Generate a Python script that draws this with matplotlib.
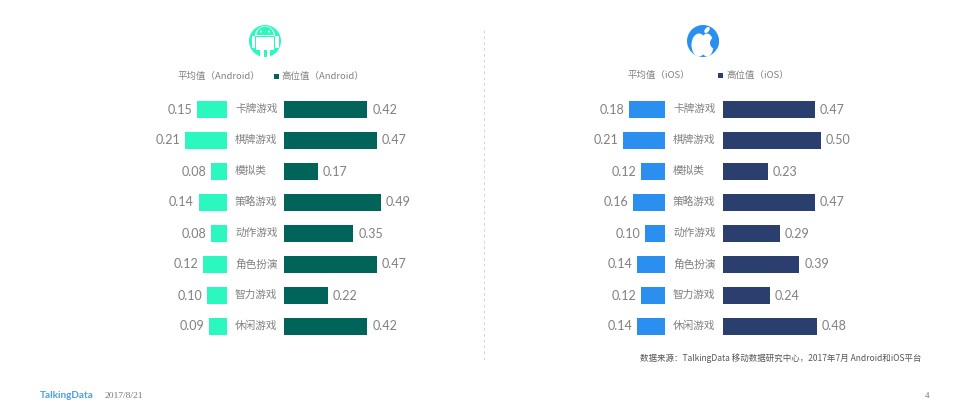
import matplotlib
matplotlib.use('Agg')
import matplotlib.pyplot as plt
from matplotlib.patches import Circle, Rectangle, Ellipse, Wedge

plt.rcParams['font.family'] = ['Noto Sans CJK SC', 'DejaVu Sans']

categories = ['卡牌游戏', '棋牌游戏', '模拟类', '策略游戏', '动作游戏', '角色扮演', '智力游戏', '休闲游戏']
android_avg = [0.15, 0.21, 0.08, 0.14, 0.08, 0.12, 0.10, 0.09]
android_high = [0.42, 0.47, 0.17, 0.49, 0.35, 0.47, 0.22, 0.42]
ios_avg = [0.18, 0.21, 0.12, 0.16, 0.10, 0.14, 0.12, 0.14]
ios_high = [0.47, 0.50, 0.23, 0.47, 0.29, 0.39, 0.24, 0.48]

W, H = 965, 420
GRAY = '#808080'
fig = plt.figure(figsize=(W / 100, H / 100), dpi=100)

# full page axes in pixel coordinates for icons, legends and footer
page = fig.add_axes([0, 0, 1, 1])
page.set_xlim(0, W)
page.set_ylim(H, 0)
page.axis('off')


def bar_axes(x0, x1, flip, vals, color):
    a = fig.add_axes([x0 / W, 1 - 342 / H, (x1 - x0) / W, (342 - 94) / H])
    a.barh(range(8), vals, height=0.56, color=color)
    a.set_ylim(7.5, -0.5)
    a.set_xlim((0.5, 0) if flip else (0, 0.5))
    a.axis('off')
    a.patch.set_alpha(0)
    for i, v in enumerate(vals):
        a.annotate('%.2f' % v, (v, i), xytext=(-5 if flip else 5, 0),
                   textcoords='offset pixels',
                   ha='right' if flip else 'left', va='center',
                   fontsize=9, color=GRAY, family='Lato')
    return a


bar_axes(127, 227, True, android_avg, '#2bf8bf')
bar_axes(284, 383, False, android_high, '#00645a')
bar_axes(565, 665, True, ios_avg, '#2b8ff0')
bar_axes(723, 821, False, ios_high, '#2a3f6e')

row_y = [109, 140, 171, 202, 233, 264, 295, 326]
for y, c in zip(row_y, categories):
    page.text(235, y, c, ha='left', va='center', fontsize=7.7, color=GRAY)
    page.text(673, y, c, ha='left', va='center', fontsize=7.7, color=GRAY)

# legends
page.text(178, 76, '平均值（Android）', ha='left', va='center', fontsize=6.8, color=GRAY)
page.add_patch(Rectangle((274, 74), 5, 5, color='#00645a', lw=0))
page.text(281, 76, '高位值（Android）', ha='left', va='center', fontsize=6.8, color=GRAY)
page.text(628, 75, '平均值（iOS）', ha='left', va='center', fontsize=6.8, color=GRAY)
page.add_patch(Rectangle((718, 73), 5, 5, color='#2a3f6e', lw=0))
page.text(726, 75, '高位值（iOS）', ha='left', va='center', fontsize=6.8, color=GRAY)

# divider
page.plot([484, 484], [30, 360], color='#d4d4d4', lw=0.7, ls=(0, (3, 3)))

# android icon
teal = '#2bf8bf'
page.add_patch(Circle((265, 41), 16, fc=teal, ec='none'))
page.add_patch(Wedge((265, 36), 10, 180, 360, fc='white', ec='none'))
page.add_patch(Wedge((265, 35), 8.5, 180, 360, fc=teal, ec='none'))
page.add_patch(Rectangle((256, 37), 18, 13, fc='white', ec='none'))
page.add_patch(Rectangle((251.5, 36), 3.2, 12, fc='white', ec='none'))
page.add_patch(Rectangle((275.3, 36), 3.2, 12, fc='white', ec='none'))
page.add_patch(Rectangle((260, 49), 3.5, 8, fc='white', ec='none'))
page.add_patch(Rectangle((266.5, 49), 3.5, 8, fc='white', ec='none'))
page.add_patch(Circle((261, 31.5), 1, fc='white', ec='none'))
page.add_patch(Circle((269, 31.5), 1, fc='white', ec='none'))

# apple icon, the bite is cut to the disc
blue = '#2b8ff0'
disc = Circle((703, 41), 16, fc=blue, ec='none')
page.add_patch(disc)
page.add_patch(Ellipse((699, 45), 15, 23, fc='white', ec='none'))
page.add_patch(Ellipse((707, 45), 13, 23, fc='white', ec='none'))
bite = Circle((716, 43), 6, fc=blue, ec='none')
page.add_patch(bite)
bite.set_clip_path(disc)
page.add_patch(Ellipse((707, 30), 4, 7, angle=40, fc='white', ec='none'))

# footer
page.text(780.5, 358, '数据来源：TalkingData 移动数据研究中心，2017年7月 Android和iOS平台',
          ha='center', va='center', fontsize=6.1, color='#555555')
page.text(40, 395, 'TalkingData', ha='left', va='center', fontsize=7.2, color='#4a9ff0',
          fontweight='bold', family='Lato')
page.text(105, 396, '2017/8/21', ha='left', va='center', fontsize=6.8, color='#777777',
          family='Liberation Serif')
page.text(927, 396, '4', ha='center', va='center', fontsize=6.5, color='#777777',
          family='Liberation Serif')

fig.savefig('out.png', dpi=100)
